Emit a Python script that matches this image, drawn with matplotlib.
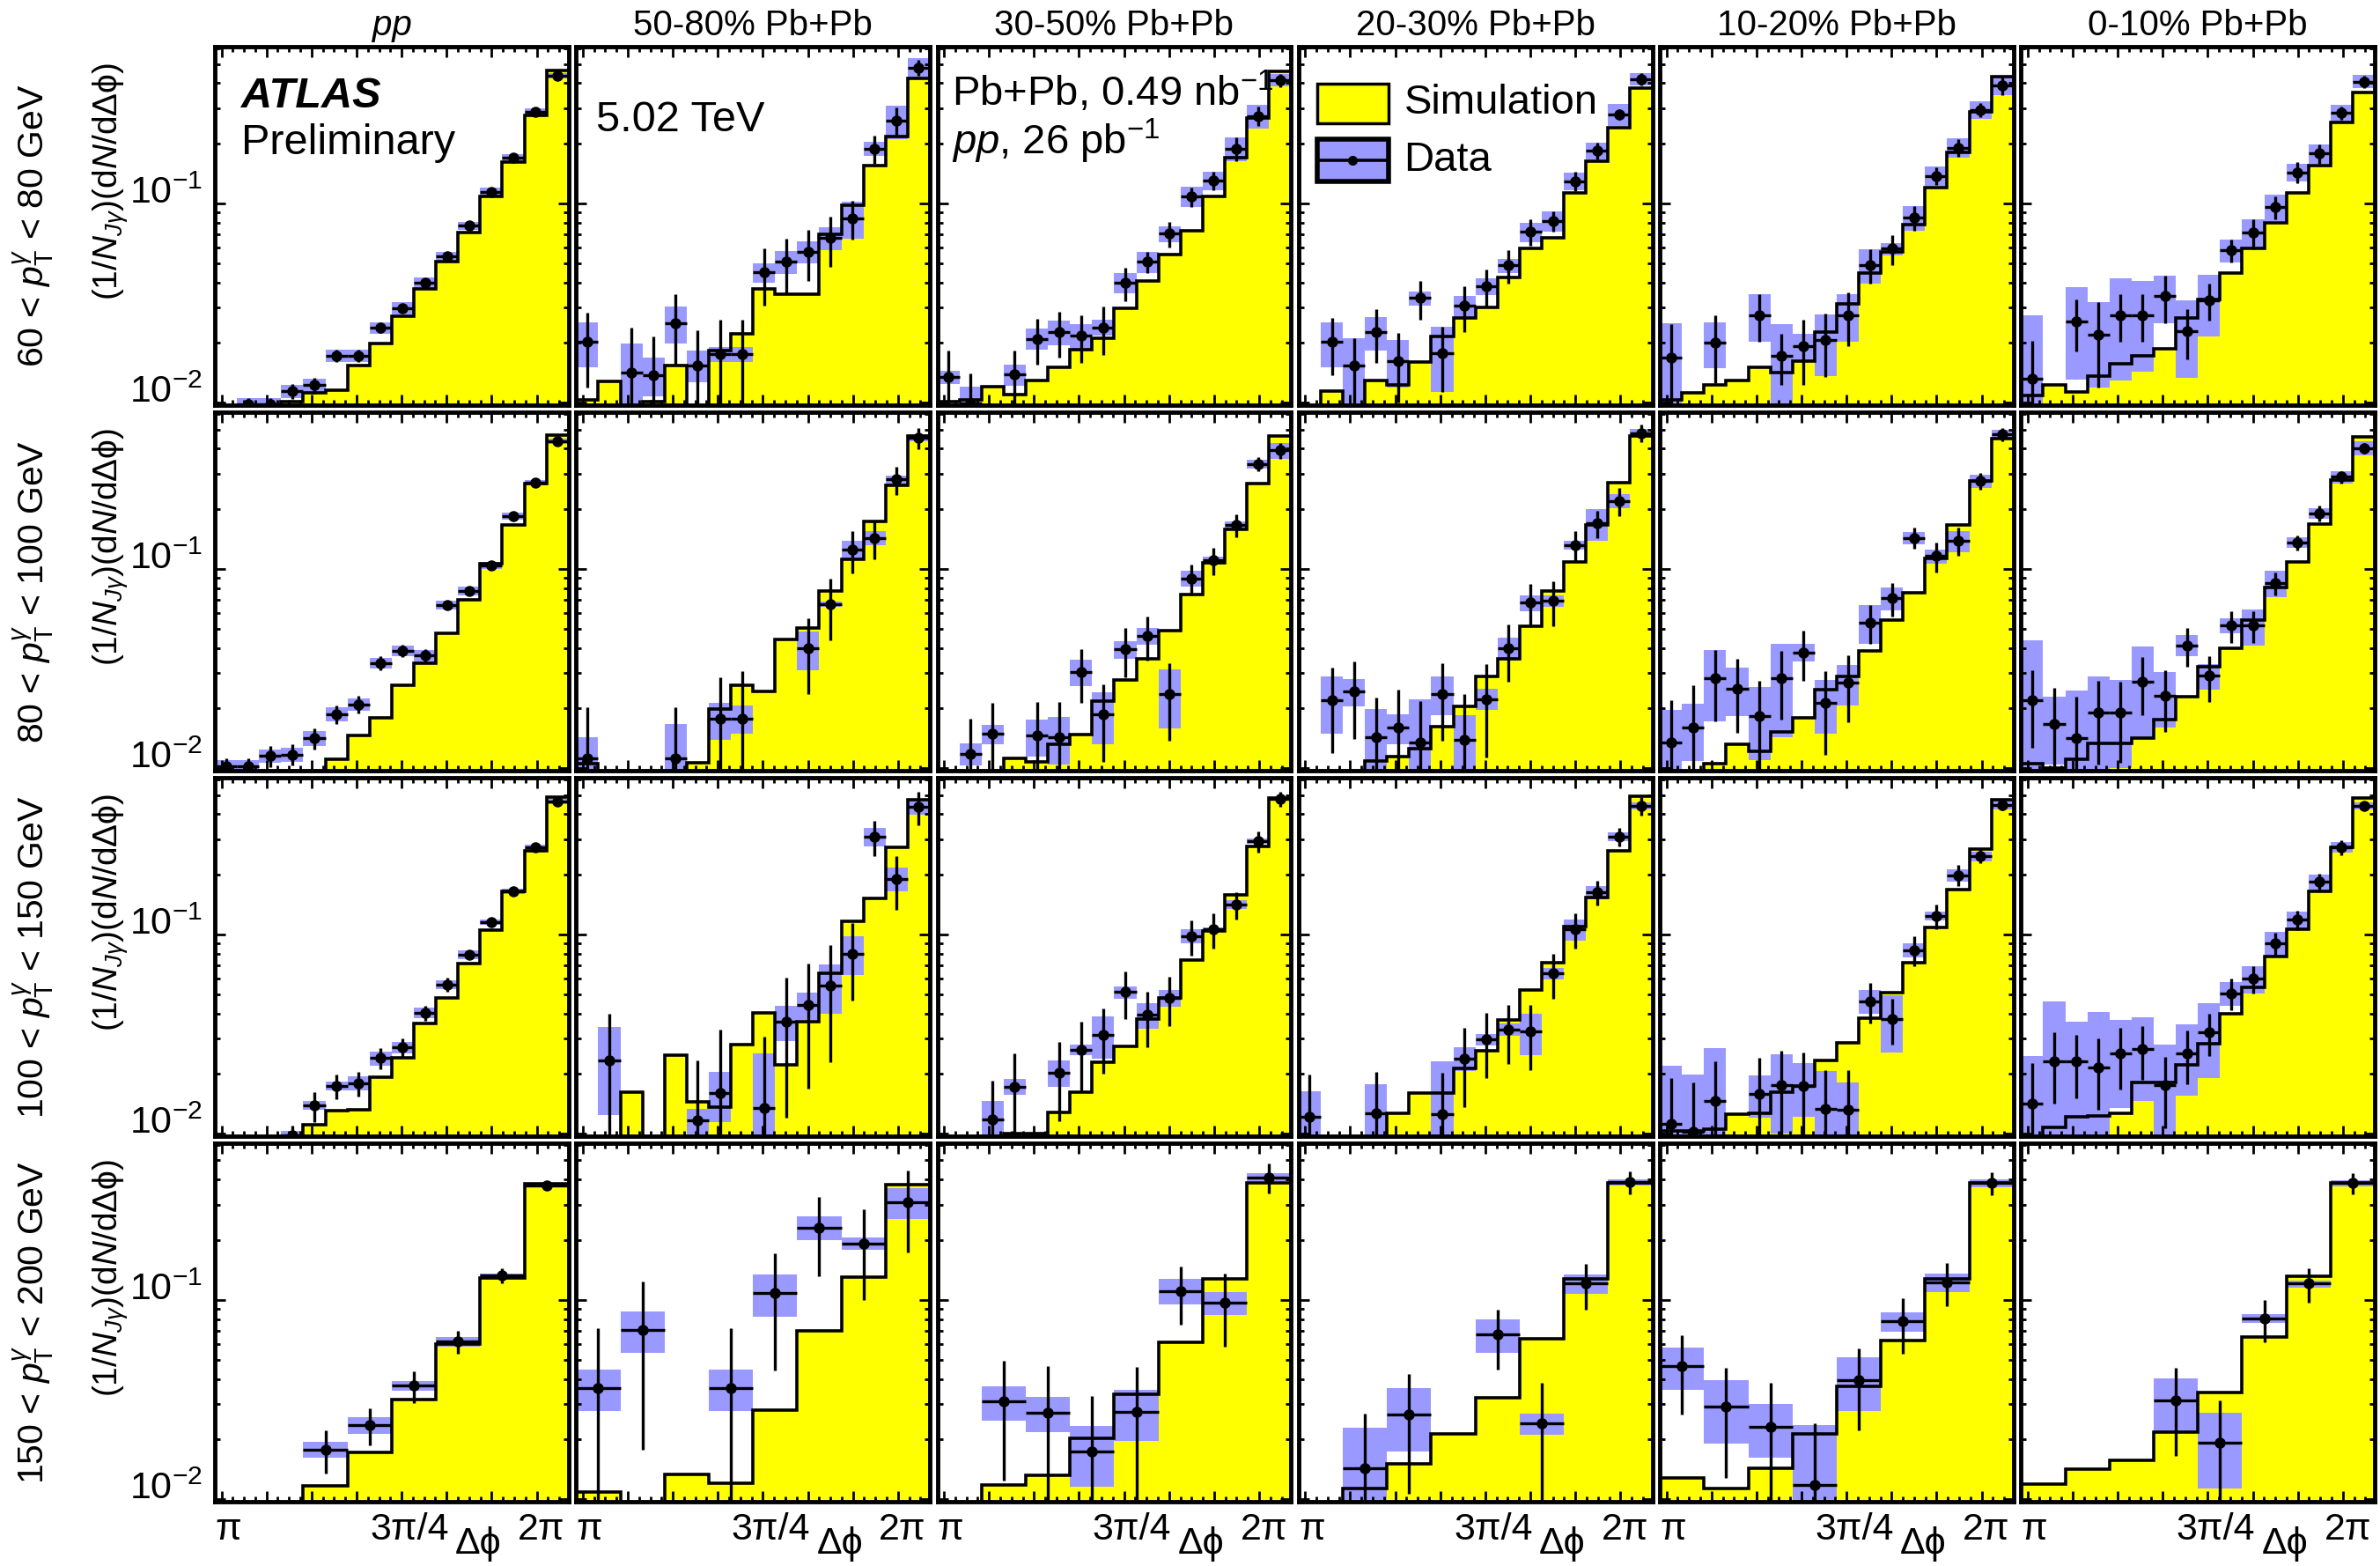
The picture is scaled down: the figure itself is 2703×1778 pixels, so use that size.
import numpy as np
import matplotlib
matplotlib.use("Agg")
import matplotlib.pyplot as plt
from matplotlib.patches import Rectangle
from matplotlib.lines import Line2D
from matplotlib.ticker import FixedLocator, LogLocator, LogFormatterMathtext, NullFormatter

plt.rcParams["font.family"] = ["Liberation Sans", "DejaVu Sans"]
plt.rcParams["mathtext.fontset"] = "custom"
plt.rcParams["mathtext.rm"] = "Liberation Sans"
plt.rcParams["mathtext.it"] = "Liberation Sans:italic"
plt.rcParams["mathtext.bf"] = "Liberation Sans:bold"

nan = np.nan

# ---------------- labels ----------------
centralities = ["pp", "50-80% Pb+Pb", "30-50% Pb+Pb", "20-30% Pb+Pb", "10-20% Pb+Pb", "0-10% Pb+Pb"]
pt_bins = [r"60 < $p_{\mathrm{T}}^{\gamma}$ < 80 GeV",
           r"80 < $p_{\mathrm{T}}^{\gamma}$ < 100 GeV",
           r"100 < $p_{\mathrm{T}}^{\gamma}$ < 150 GeV",
           r"150 < $p_{\mathrm{T}}^{\gamma}$ < 200 GeV"]
y_title = r"(1/$N_{J\gamma}$)(d$N$/dΔϕ)"
x_labels = ["π", "3π/4", "2π"]

# ---------------- data ----------------
# each row: one list per centrality column (pp, 50-80, 30-50, 20-30, 10-20, 0-10)
# stat / sys are relative uncertainties; 0.005 in sim = below the axis range

# 60 < pT < 80 GeV
sim_60_80 = [
    [0.005, 0.005, 0.005, 0.0101, 0.0112, 0.0115, 0.0153, 0.0197, 0.0271, 0.0370, 0.0507, 0.0714, 0.1086, 0.160, 0.277, 0.464],
    [0.0103, 0.0128, 0.005, 0.0101, 0.0154, 0.005, 0.0182, 0.0220, 0.0370, 0.0350, 0.0350, 0.0695, 0.098, 0.1545, 0.216, 0.423],
    [0.0101, 0.0103, 0.0120, 0.0110, 0.0129, 0.0150, 0.0184, 0.0211, 0.0298, 0.0406, 0.0552, 0.0726, 0.1086, 0.1685, 0.268, 0.459],
    [0.005, 0.0114, 0.005, 0.0129, 0.0123, 0.0159, 0.0215, 0.0266, 0.0301, 0.0424, 0.0591, 0.0671, 0.1124, 0.163, 0.239, 0.378],
    [0.0103, 0.0112, 0.0122, 0.0129, 0.0150, 0.0142, 0.0162, 0.0226, 0.0313, 0.0445, 0.0572, 0.0778, 0.1195, 0.1805, 0.287, 0.433],
    [0.0108, 0.0122, 0.0113, 0.0135, 0.0157, 0.0172, 0.0186, 0.0266, 0.0330, 0.0445, 0.0591, 0.0797, 0.1124, 0.1545, 0.253, 0.361],
]
data_60_80 = [
    [nan, 0.00976, 0.00976, 0.0114, 0.0122, 0.0172, 0.0172, 0.0237, 0.0298, 0.0399, 0.0543, 0.0770, 0.1135, 0.170, 0.287, 0.437],
    [0.0201, nan, 0.0142, 0.0137, 0.0251, 0.0154, 0.0175, 0.0175, 0.0450, 0.0507, 0.0572, 0.0667, 0.0842, 0.188, 0.259, 0.480],
    [0.0134, 0.0099, nan, 0.0138, 0.0209, 0.0226, 0.0216, 0.0238, 0.0399, 0.0507, 0.0702, 0.108, 0.130, 0.188, 0.274, 0.414],
    [nan, 0.0201, 0.0153, 0.0226, 0.0162, 0.0334, 0.0176, 0.0305, 0.0383, 0.0487, 0.0719, 0.0814, 0.129, 0.1835, 0.280, 0.418],
    [0.0168, nan, 0.0200, nan, 0.0275, 0.0172, 0.0191, 0.0206, 0.0275, 0.0490, 0.0591, 0.0848, 0.137, 0.190, 0.294, 0.391],
    [0.0131, nan, 0.0255, 0.0219, 0.0275, 0.0275, 0.0342, 0.0229, 0.0325, 0.0581, 0.0710, 0.0957, 0.143, 0.1774, 0.284, 0.408],
]
stat_60_80 = [
    [nan, 0.08, 0.08, 0.09, 0.09, 0.07, 0.07, 0.06, 0.05, 0.04, 0.04, 0.03, 0.03, 0.02, 0.02, 0.02],
    [0.41, nan, 0.68, 0.57, 0.39, 0.50, 0.48, 0.48, 0.32, 0.31, 0.29, 0.28, 0.22, 0.16, 0.17, 0.09],
    [0.36, 0.41, nan, 0.32, 0.26, 0.26, 0.27, 0.27, 0.19, 0.12, 0.15, 0.11, 0.11, 0.14, 0.11, 0.08],
    [nan, 0.32, 0.38, 0.30, 0.38, 0.22, 0.36, 0.26, 0.21, 0.19, 0.15, 0.12, 0.11, 0.10, 0.06, 0.07],
    [0.47, nan, 0.375, nan, 0.27, 0.29, 0.36, 0.35, 0.30, 0.195, 0.17, 0.14, 0.10, 0.10, 0.08, 0.11],
    [0.56, nan, 0.29, 0.46, 0.27, 0.27, 0.27, 0.28, 0.21, 0.13, 0.17, 0.135, 0.12, 0.11, 0.08, 0.07],
]
sys_60_80 = [
    [nan, 0.08, 0.08, 0.08, 0.08, 0.07, 0.07, 0.07, 0.07, 0.06, 0.05, 0.05, 0.05, 0.04, 0.04, 0.03],
    [0.25, nan, 0.39, 0.22, 0.21, 0.18, 0.09, 0.09, 0.11, 0.13, 0.13, 0.13, 0.21, 0.08, 0.19, 0.11],
    [0.08, 0.21, nan, 0.12, 0.12, 0.14, 0.14, 0.09, 0.115, 0.12, 0.09, 0.115, 0.11, 0.14, 0.14, 0.07],
    [nan, 0.25, 0.37, 0.19, 0.27, 0.08, 0.36, 0.12, 0.10, 0.08, 0.11, 0.12, 0.10, 0.10, 0.125, 0.07],
    [0.48, nan, 0.26, nan, 0.27, 0.44, 0.16, 0.34, 0.27, 0.195, 0.07, 0.14, 0.11, 0.11, 0.10, 0.11],
    [1.1, nan, 0.49, 0.46, 0.53, 0.48, 0.27, 0.42, 0.34, 0.13, 0.17, 0.15, 0.10, 0.11, 0.10, 0.075],
]

# 80 < pT < 100 GeV
sim_80_100 = [
    [0.005, 0.005, 0.005, 0.005, 0.005, 0.0111, 0.0146, 0.0178, 0.0259, 0.0334, 0.0475, 0.0697, 0.1059, 0.166, 0.267, 0.469],
    [0.0105, 0.005, 0.005, 0.005, 0.005, 0.0106, 0.0198, 0.0259, 0.0242, 0.0440, 0.0503, 0.0772, 0.111, 0.172, 0.262, 0.464],
    [0.005, 0.005, 0.005, 0.0112, 0.0107, 0.0131, 0.0147, 0.0217, 0.0277, 0.0353, 0.0487, 0.0741, 0.1066, 0.158, 0.268, 0.464],
    [0.005, 0.005, 0.005, 0.0108, 0.0114, 0.0125, 0.0162, 0.0203, 0.0289, 0.0353, 0.0515, 0.0772, 0.108, 0.166, 0.271, 0.464],
    [0.005, 0.005, 0.0105, 0.0131, 0.0121, 0.0151, 0.0179, 0.0246, 0.0289, 0.0388, 0.0551, 0.0754, 0.113, 0.166, 0.2755, 0.449],
    [0.0105, 0.0100, 0.0111, 0.0133, 0.0133, 0.0141, 0.0175, 0.0227, 0.0321, 0.0399, 0.0555, 0.0802, 0.1086, 0.1667, 0.2795, 0.458],
]
data_80_100 = [
    [0.0102, 0.0102, 0.0115, 0.0117, 0.0141, 0.0186, 0.0209, 0.0336, 0.0388, 0.0366, 0.0655, 0.0776, 0.104, 0.184, 0.271, 0.438],
    [0.0112, nan, nan, nan, 0.0112, nan, 0.0176, 0.0177, nan, nan, 0.0398, 0.0665, 0.125, 0.143, 0.280, 0.453],
    [nan, 0.0118, 0.0148, nan, 0.0145, 0.0142, 0.0304, 0.0185, 0.0394, 0.0459, 0.0236, 0.0892, 0.110, 0.165, 0.335, 0.392],
    [nan, 0.0219, 0.0242, 0.0143, 0.0159, 0.0134, 0.0236, 0.0139, 0.0222, 0.0398, 0.0674, 0.0689, 0.131, 0.169, 0.219, 0.480],
    [0.0134, 0.0159, 0.0281, 0.0251, 0.0182, 0.0281, 0.0381, 0.0212, 0.0268, 0.0538, 0.0712, 0.143, 0.1156, 0.138, 0.2755, 0.472],
    [0.0218, 0.0166, 0.0141, 0.0189, 0.0189, 0.0272, 0.0231, 0.0413, 0.0290, 0.0518, 0.0518, 0.0848, 0.135, 0.190, 0.289, 0.402],
]
stat_80_100 = [
    [0.10, 0.10, 0.12, 0.12, 0.12, 0.11, 0.10, 0.08, 0.07, 0.08, 0.05, 0.05, 0.04, 0.03, 0.03, 0.02],
    [0.80, nan, nan, nan, 0.80, nan, 0.62, 0.73, nan, nan, 0.41, 0.34, 0.24, 0.22, 0.16, 0.12],
    [nan, 0.50, 0.44, nan, 0.48, 0.51, 0.30, 0.42, 0.28, 0.25, 0.42, 0.18, 0.155, 0.13, 0.08, 0.09],
    [nan, 0.46, 0.42, 0.57, 0.55, 0.62, 0.42, 0.69, 0.49, 0.32, 0.24, 0.25, 0.175, 0.16, 0.16, 0.10],
    [0.64, 0.63, 0.39, 0.40, 0.50, 0.38, 0.28, 0.45, 0.37, 0.22, 0.19, 0.12, 0.17, 0.16, 0.10, 0.08],
    [0.42, 0.52, 0.61, 0.45, 0.44, 0.32, 0.34, 0.22, 0.26, 0.18, 0.18, 0.13, 0.09, 0.09, 0.07, 0.06],
]
sys_80_100 = [
    [0.07, 0.07, 0.08, 0.08, 0.09, 0.08, 0.07, 0.06, 0.06, 0.07, 0.05, 0.05, 0.04, 0.04, 0.03, 0.03],
    [0.27, nan, nan, nan, 0.48, nan, 0.21, 0.16, nan, nan, 0.22, 0.03, 0.10, 0.08, 0.05, 0.04],
    [nan, 0.13, 0.11, nan, 0.21, 0.27, 0.155, 0.29, 0.10, 0.095, 0.33, 0.09, 0.045, 0.05, 0.05, 0.09],
    [nan, 0.32, 0.16, 0.38, 0.17, 0.65, 0.22, 0.32, 0.12, 0.13, 0.09, 0.07, 0.05, 0.18, 0.08, 0.045],
    [0.46, 0.32, 0.39, 0.275, 0.40, 0.49, 0.10, 0.30, 0.23, 0.22, 0.13, 0.07, 0.08, 0.12, 0.08, 0.05],
    [1.0, 0.37, 0.73, 0.52, 0.47, 0.49, 0.31, 0.12, 0.15, 0.085, 0.21, 0.15, 0.06, 0.06, 0.07, 0.08],
]

# 100 < pT < 150 GeV
sim_100_150 = [
    [0.005, 0.005, 0.005, 0.005, 0.0111, 0.0130, 0.0132, 0.0192, 0.0241, 0.0355, 0.0478, 0.0715, 0.105, 0.1637, 0.2625, 0.489],
    [0.005, 0.005, 0.0162, 0.005, 0.0246, 0.0144, 0.0135, 0.0279, 0.0403, 0.0220, 0.0363, 0.0634, 0.1162, 0.1508, 0.2735, 0.4727],
    [0.005, 0.005, 0.005, 0.0100, 0.0100, 0.0127, 0.0162, 0.0228, 0.0273, 0.0374, 0.0478, 0.0745, 0.1042, 0.157, 0.276, 0.481],
    [0.005, 0.005, 0.005, 0.005, 0.0126, 0.0160, 0.0160, 0.0213, 0.0261, 0.0372, 0.0523, 0.0721, 0.1097, 0.1528, 0.262, 0.493],
    [0.0103, 0.0103, 0.0105, 0.0125, 0.0126, 0.0162, 0.0173, 0.0232, 0.0284, 0.0380, 0.0508, 0.0721, 0.1085, 0.167, 0.2667, 0.4716],
    [0.005, 0.0107, 0.0121, 0.0123, 0.0126, 0.0180, 0.0180, 0.0222, 0.0282, 0.0399, 0.0541, 0.0773, 0.1057, 0.164, 0.2735, 0.4815],
]
data_100_150 = [
    [nan, nan, nan, 0.0098, 0.0138, 0.0173, 0.0179, 0.0239, 0.0270, 0.0403, 0.0559, 0.0787, 0.1147, 0.1637, 0.2735, 0.4615],
    [nan, 0.0233, nan, nan, nan, 0.0116, 0.0159, nan, 0.0134, 0.0363, 0.0440, 0.0553, 0.0798, 0.309, 0.190, 0.4355],
    [nan, nan, 0.0118, 0.0172, nan, 0.0202, 0.0264, 0.0313, 0.0512, 0.0394, 0.0478, 0.098, 0.106, 0.1407, 0.2924, 0.4766],
    [0.0121, nan, nan, 0.0126, nan, nan, 0.0125, 0.0238, 0.0296, 0.0332, 0.0324, 0.0635, 0.106, 0.1626, 0.309, 0.4406],
    [0.0112, 0.0102, 0.0146, nan, 0.0158, 0.0175, 0.0173, 0.0133, 0.0132, 0.0462, 0.0376, 0.0834, 0.1236, 0.198, 0.2465, 0.445],
    [0.0141, 0.0231, 0.0231, 0.0215, 0.0253, 0.0265, 0.0175, 0.0253, 0.0321, 0.0506, 0.0597, 0.0896, 0.118, 0.183, 0.2735, 0.441],
]
stat_100_150 = [
    [nan, nan, nan, 0.12, 0.17, 0.14, 0.14, 0.12, 0.11, 0.09, 0.08, 0.05, 0.04, 0.03, 0.03, 0.02],
    [nan, 0.72, nan, nan, nan, 1.0, 1.08, nan, 1.28, 0.67, 0.62, 0.59, 0.42, 0.20, 0.30, 0.19],
    [nan, nan, 0.56, 0.47, nan, 0.43, 0.38, 0.36, 0.27, 0.31, 0.28, 0.20, 0.20, 0.16, 0.12, 0.09],
    [0.63, nan, nan, 0.62, nan, nan, 0.62, 0.43, 0.36, 0.33, 0.36, 0.25, 0.20, 0.145, 0.11, 0.11],
    [0.69, 0.76, 0.57, nan, 0.51, 0.48, 0.47, 0.56, 0.57, 0.23, 0.26, 0.175, 0.14, 0.12, 0.08, 0.06],
    [0.60, 0.39, 0.35, 0.39, 0.34, 0.30, 0.39, 0.30, 0.24, 0.18, 0.16, 0.135, 0.115, 0.10, 0.085, 0.055],
]
sys_100_150 = [
    [nan, nan, nan, 0.05, 0.05, 0.05, 0.08, 0.08, 0.07, 0.06, 0.05, 0.05, 0.03, 0.03, 0.03, 0.03],
    [nan, 0.47, nan, nan, nan, 0.145, 0.28, nan, 0.88, 0.20, 0.155, 0.28, 0.22, 0.11, 0.135, 0.085],
    [nan, nan, 0.24, 0.09, nan, 0.155, 0.06, 0.24, 0.07, 0.145, 0.095, 0.08, 0.025, 0.05, 0.03, 0.02],
    [0.34, nan, nan, 0.40, nan, nan, 0.85, 0.135, 0.065, 0.07, 0.235, 0.07, 0.12, 0.075, 0.05, 0.045],
    [0.96, 0.93, 0.83, nan, 0.24, 0.43, 0.30, 0.54, 0.37, 0.14, 0.32, 0.08, 0.05, 0.07, 0.055, 0.05],
    [0.73, 1.0, 0.58, 0.89, 0.47, 0.45, 0.60, 0.39, 0.41, 0.14, 0.16, 0.15, 0.10, 0.09, 0.06, 0.045],
]

# 150 < pT < 200 GeV (coarser binning)
sim_150_200 = [
    [0.005, 0.005, 0.0117, 0.0171, 0.0315, 0.0597, 0.1288, 0.3805],
    [0.0108, 0.005, 0.0133, 0.0120, 0.0278, 0.0698, 0.1296, 0.378],
    [0.005, 0.0118, 0.0131, 0.0202, 0.0337, 0.0610, 0.1266, 0.384],
    [0.005, 0.0113, 0.0150, 0.0213, 0.0322, 0.0636, 0.1266, 0.384],
    [0.0128, 0.0113, 0.0143, 0.0213, 0.0368, 0.0624, 0.1266, 0.384],
    [0.0119, 0.0141, 0.0157, 0.0216, 0.0341, 0.0652, 0.131, 0.384],
]
data_150_200 = [
    [nan, nan, 0.0177, 0.0235, 0.0370, 0.0618, 0.1322, 0.3755],
    [0.0361, 0.0707, nan, 0.0361, 0.108, 0.2297, 0.1915, 0.309],
    [nan, 0.0308, 0.0272, 0.0174, 0.0274, 0.1106, 0.0967, 0.411],
    [nan, 0.0143, 0.0266, nan, 0.0668, 0.0239, 0.1203, 0.3883],
    [0.0466, 0.0291, 0.0230, 0.0118, 0.0396, 0.0777, 0.1224, 0.3844],
    [nan, nan, nan, 0.0311, 0.0192, 0.0804, 0.1203, 0.3844],
]
stat_150_200 = [
    [nan, nan, 0.245, 0.21, 0.18, 0.135, 0.085, 0.05],
    [1.0, 0.75, nan, 1.0, 0.59, 0.43, 0.48, 0.44],
    [nan, 0.60, 0.70, 0.89, 0.68, 0.32, 0.40, 0.17],
    [nan, 0.88, 0.60, nan, 0.33, 0.60, 0.26, 0.13],
    [0.43, 0.56, 0.66, 1.04, 0.44, 0.31, 0.245, 0.13],
    [nan, nan, nan, 0.47, 0.62, 0.24, 0.20, 0.12],
]
sys_150_200 = [
    [nan, nan, 0.09, 0.10, 0.055, 0.055, 0.025, 0.025],
    [0.235, 0.235, nan, 0.235, 0.24, 0.135, 0.07, 0.175],
    [nan, 0.195, 0.20, 0.34, 0.285, 0.145, 0.13, 0.045],
    [nan, 0.59, 0.35, nan, 0.19, 0.125, 0.11, 0.035],
    [0.24, 0.35, 0.30, 1.0, 0.30, 0.11, 0.105, 0.045],
    [nan, nan, nan, 0.30, 0.41, 0.05, 0.04, 0.035],
]

rows = [
    (sim_60_80, data_60_80, stat_60_80, sys_60_80),
    (sim_80_100, data_80_100, stat_80_100, sys_80_100),
    (sim_100_150, data_100_150, stat_100_150, sys_100_150),
    (sim_150_200, data_150_200, stat_150_200, sys_150_200),
]

YELLOW = "#ffff00"
BLUE = "#9999ff"
YMIN, YMAX = 0.0097, 0.61


def draw_panel(ax, sim, dat, stat, syst):
    sim = np.asarray(sim, float)
    dat = np.asarray(dat, float)
    stat = np.asarray(stat, float)
    syst = np.asarray(syst, float)
    edges = np.linspace(np.pi / 2, np.pi, len(sim) + 1)
    centers = 0.5 * (edges[:-1] + edges[1:])
    w = edges[1] - edges[0]

    # simulation: yellow fill + black outline
    ax.stairs(sim, edges, baseline=1e-4, fill=True, color=YELLOW, lw=0, zorder=1.0)
    # systematic boxes
    for x0, v, s in zip(edges[:-1], dat, syst):
        if np.isnan(v):
            continue
        lo = max(v * (1 - s), 1e-4)
        hi = v * (1 + s)
        ax.add_patch(Rectangle((x0, lo), w, hi - lo, facecolor=BLUE, edgecolor="none", zorder=1.5))
    ax.stairs(sim, edges, baseline=None, color="k", lw=2.6, zorder=2.0)

    # data with statistical errors
    m = ~np.isnan(dat)
    err = dat * stat
    err_lo = np.minimum(err, dat * 0.999)
    ax.errorbar(centers[m], dat[m], yerr=[err_lo[m], err[m]], xerr=w / 2, fmt="o",
                color="k", ms=8, elinewidth=2.4, capsize=0, zorder=2.2)

    ax.set_xlim(np.pi / 2, np.pi)
    ax.set_yscale("log")
    ax.set_ylim(YMIN, YMAX)
    ax.xaxis.set_major_locator(FixedLocator(np.arange(1.6, 3.01, 0.2)))
    minors = [x for x in np.round(np.arange(1.55, 3.15, 0.05), 2) if np.pi / 2 < x < np.pi]
    ax.xaxis.set_minor_locator(FixedLocator(minors))
    ax.yaxis.set_major_locator(LogLocator(base=10, numticks=10))
    ax.yaxis.set_minor_locator(LogLocator(base=10, subs=np.arange(2, 10), numticks=20))
    ax.yaxis.set_minor_formatter(NullFormatter())
    ax.tick_params(which="both", direction="in", top=True, right=True, width=2.0,
                   labelbottom=False, labelleft=False)
    ax.tick_params(which="major", length=8.6)
    ax.tick_params(which="minor", length=4.3)
    for sp in ax.spines.values():
        sp.set_linewidth(3.5)


fig = plt.figure(figsize=(27.03, 17.78), dpi=100)
gs = fig.add_gridspec(4, 6, left=0.0903, right=0.9978, top=0.9702, bottom=0.0411,
                      wspace=0.0214, hspace=0.0197)
axes = np.empty((4, 6), dtype=object)

for r in range(4):
    sims, dats, stats, systs = rows[r]
    for c in range(6):
        ax = fig.add_subplot(gs[r, c])
        axes[r, c] = ax
        draw_panel(ax, sims[c], dats[c], stats[c], systs[c])
        if c == 0:
            ax.yaxis.set_major_formatter(LogFormatterMathtext())
            ax.tick_params(axis="y", which="major", labelleft=True, labelsize=31, pad=10)
            for t in ax.yaxis.get_major_ticks():
                t.label1.set_verticalalignment("baseline")
        if r == 0:
            ax.text(0.5, 1 + 13 / 405, centralities[c], transform=ax.transAxes,
                    ha="center", va="baseline", fontsize=29,
                    fontstyle="italic" if c == 0 else "normal")
        if r == 3:
            yb = -43 / 410
            ax.text(0.0, yb, x_labels[0], transform=ax.transAxes, ha="left", va="baseline", fontsize=31)
            ax.text(0.55, yb, x_labels[1], transform=ax.transAxes, ha="center", va="baseline", fontsize=31)
            ax.text(0.99, yb, x_labels[2], transform=ax.transAxes, ha="right", va="baseline", fontsize=31)
            ax.text(0.745, -60 / 410, "Δϕ", transform=ax.transAxes, ha="center", va="baseline", fontsize=31)

# row labels (two-line y titles)
W, H = 2703.0, 1778.0
for r in range(4):
    bb = axes[r, 0].get_position()
    fig.text(38 / W, 0.5 * (bb.y0 + bb.y1), pt_bins[r], rotation=90, ha="center", va="center", fontsize=29.5)
    fig.text(126 / W, bb.y1 - 18 / H, y_title, rotation=90, ha="center", va="top", fontsize=28)

# annotations
a0 = axes[0, 0]
a0.text(0.075, 0.830, "ATLAS", transform=a0.transAxes, fontsize=35, fontweight="bold",
        fontstyle="italic", va="baseline")
a0.text(0.075, 0.699, "Preliminary", transform=a0.transAxes, fontsize=35, va="baseline")
axes[0, 1].text(0.057, 0.765, "5.02 TeV", transform=axes[0, 1].transAxes, fontsize=35, va="baseline")
axes[0, 2].text(0.042, 0.835, r"Pb+Pb, 0.49 nb$^{-1}$", transform=axes[0, 2].transAxes,
                fontsize=34, va="baseline")
axes[0, 2].text(0.042, 0.699, r"$pp$, 26 pb$^{-1}$", transform=axes[0, 2].transAxes,
                fontsize=34, va="baseline")

# legend drawn by hand inside the 20-30% panel
al = axes[0, 3]
tr = al.transAxes
al.add_patch(Rectangle((0.052, 0.785), 0.202, 0.111, transform=tr, facecolor=YELLOW,
                       edgecolor="k", lw=2.5, zorder=5, clip_on=False))
al.add_patch(Rectangle((0.052, 0.625), 0.202, 0.118, transform=tr, facecolor=BLUE,
                       edgecolor="k", lw=4.0, zorder=5, clip_on=False))
al.add_line(Line2D([0.052, 0.254], [0.684, 0.684], transform=tr, color="k", lw=2.6, zorder=6))
al.add_line(Line2D([0.153], [0.684], transform=tr, color="k", marker="o", ms=7, zorder=6))
al.text(0.298, 0.842, "Simulation", transform=tr, fontsize=34, va="center", zorder=6)
al.text(0.298, 0.684, "Data", transform=tr, fontsize=34, va="center", zorder=6)

fig.savefig("out.png", dpi=100)
